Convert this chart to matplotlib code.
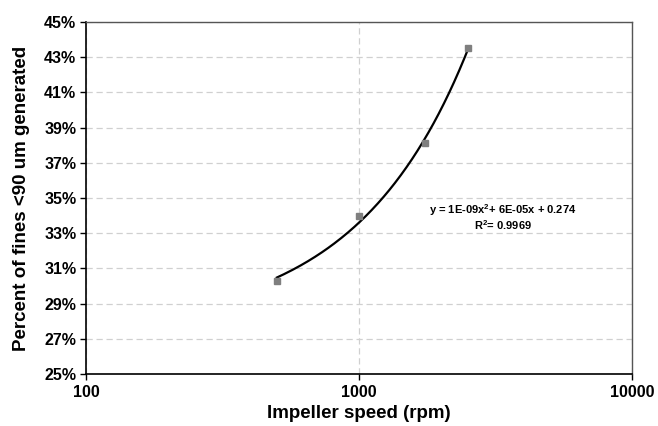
import numpy as np
import matplotlib
matplotlib.use("Agg")
from matplotlib import pyplot as plt
from matplotlib.ticker import FixedLocator, NullLocator

# data
impeller_speed = [500, 1000, 1750, 2500]  # rpm
fines_fraction = [0.303, 0.340, 0.381, 0.435]
y_ticks = [0.25, 0.27, 0.29, 0.31, 0.33, 0.35, 0.37, 0.39, 0.41, 0.43, 0.45]
x_ticks = [100, 1000, 10000]
equation_text = "y = 1E-09x$^{\\mathbf{2}}$+ 6E-05x + 0.274"
r2_text = "R$^{\\mathbf{2}}$= 0.9969"

plt.rcParams['font.family'] = ['Liberation Sans', 'DejaVu Sans']
plt.rcParams['mathtext.fontset'] = 'custom'
plt.rcParams['mathtext.rm'] = 'Liberation Sans'
plt.rcParams['mathtext.bf'] = 'Liberation Sans:bold'

fig = plt.figure(figsize=(6.58, 4.26), dpi=100)
ax = fig.add_axes([86 / 658, 1 - 374 / 426, (632 - 86) / 658, (374 - 22) / 426])

# polynomial trend line (2nd order in x, like the spreadsheet trendline)
coef = np.polyfit(impeller_speed, fines_fraction, 2)
xs = np.linspace(min(impeller_speed), max(impeller_speed), 200)
ax.plot(xs, np.polyval(coef, xs), color="black", lw=1.6, zorder=3)
ax.plot(impeller_speed, fines_fraction, ls="none", marker="s", ms=4.5,
        color="#7f7f7f", zorder=4)

ax.set_xscale("log")
ax.set_xlim(100, 10000)
ax.set_ylim(0.25, 0.45)
ax.xaxis.set_major_locator(FixedLocator(x_ticks))
ax.xaxis.set_minor_locator(NullLocator())
ax.set_xticklabels([str(t) for t in x_ticks])
ax.set_yticks(y_ticks)
ax.set_yticklabels([f"{round(t * 100)}%" for t in y_ticks])

ax.grid(True, which="major", color="#d0d0d0", ls=(0, (5, 3)), lw=0.9)
ax.set_axisbelow(True)

for s in ["top", "right"]:
    ax.spines[s].set_color("#555555")
    ax.spines[s].set_linewidth(1.0)
for s in ["left", "bottom"]:
    ax.spines[s].set_color("black")
    ax.spines[s].set_linewidth(1.2)

ax.tick_params(axis="both", direction="out", length=4, width=1, labelsize=11.5, pad=3)
for lab in ax.get_xticklabels() + ax.get_yticklabels():
    lab.set_fontweight("bold")
ax.tick_params(axis="x", pad=4)

ax.set_xlabel("Impeller speed (rpm)", fontsize=13.5, fontweight="bold", va="center")
ax.xaxis.set_label_coords(0.5, -0.111)
ax.set_ylabel("Percent of fines <90 um generated", fontsize=13.5, fontweight="bold", labelpad=10)

ax.text(503 / 658, 1 - 210 / 426, equation_text, transform=fig.transFigure,
        ha="center", va="center", fontsize=8, fontweight="bold")
ax.text(503 / 658, 1 - 225 / 426, r2_text, transform=fig.transFigure,
        ha="center", va="center", fontsize=8, fontweight="bold")

plt.savefig("out.png", dpi=100)
plt.close()
